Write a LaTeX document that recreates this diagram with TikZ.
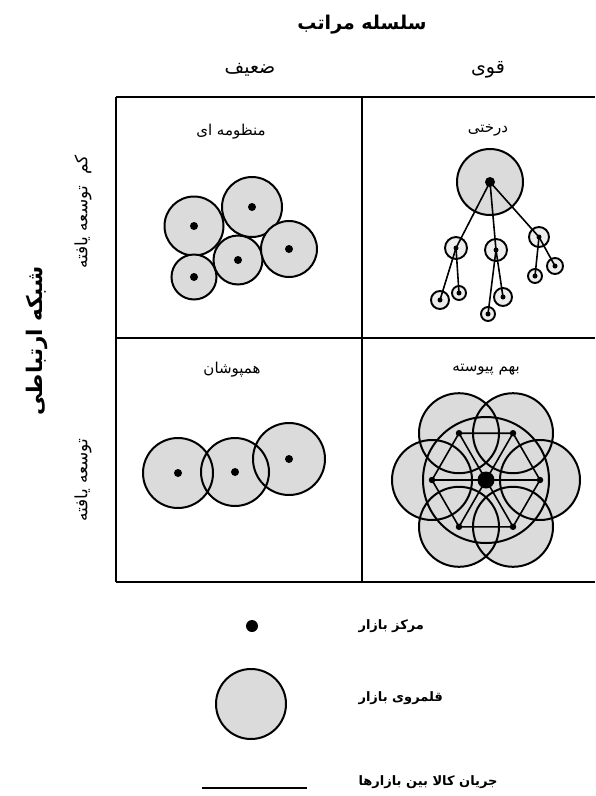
\documentclass[tikz,border=0pt]{standalone}
\usepackage{fontspec}
\newfontfamily\persianfont[Script=Arabic]{DejaVu Sans}
\TeXXeTstate=1
\tikzset{
  gridline/.style={line width=2.2pt},
  area/.style={fill=black!14},
  rim/.style={line width=2pt},
  market/.style={circle, draw, line width=2pt, fill=black!14, inner sep=0pt},
  smallmarket/.style={circle, draw, line width=1.9pt, fill=black!7, inner sep=0pt},
  centre/.style={circle, fill=black, inner sep=0pt},
  flow/.style={line width=1.6pt},
  title/.style={font=\persianfont\bfseries\fontsize{19}{22}\selectfont},
  sidetitle/.style={font=\persianfont\bfseries\fontsize{21.5}{25}\selectfont},
  head/.style={font=\persianfont\fontsize{19}{22}\selectfont},
  lbl/.style={font=\persianfont\fontsize{15}{18}\selectfont},
  sidelbl/.style={font=\persianfont\fontsize{17}{20}\selectfont},
  legendtext/.style={font=\persianfont\bfseries\fontsize{13}{16}\selectfont, anchor=west},
}
\begin{document}
\begin{tikzpicture}[x=1pt,y=-1pt]
\useasboundingbox (0,0) rectangle (595,796);
% grid
\coordinate (gtl) at (116,97);
\coordinate (gtr) at (595,97);
\coordinate (gml) at (116,338);
\coordinate (gmr) at (595,338);
\coordinate (gbl) at (116,582);
\coordinate (gbr) at (595,582);
\coordinate (gtm) at (362,97);
\coordinate (gbm) at (362,582);
\draw[gridline] (gtl) -- (gtr);
\draw[gridline] (gml) -- (gmr);
\draw[gridline] (gbl) -- (gbr);
\draw[gridline] (gtl) -- (gbl);
\draw[gridline] (gtm) -- (gbm);

% headings
\node[title] (t) at (362,25) {\beginR سلسله مراتب\endR};
\node[head] (weak) at (250,70) {\beginR ضعیف\endR};
\node[head] (strong) at (488,70) {\beginR قوی\endR};
\node[sidetitle, rotate=90] (net) at (37,341) {\beginR شبکه ارتباطی\endR};
\node[sidelbl, rotate=90] (und) at (83,212) {\beginR کم\hspace{6pt} توسعه یافته\endR};
\node[sidelbl, rotate=90] (dev) at (83,480) {\beginR توسعه یافته\endR};

% quadrant labels
\node[lbl] (q1) at (231,132) {\beginR منظومه ای\endR};
\node[lbl] (q2) at (488,130) {\beginR درختی\endR};
\node[lbl] (q3) at (232,370) {\beginR همپوشان\endR};
\node[lbl] (q4) at (486,370) {\beginR بهم پیوسته\endR};

% top-left: constellation
\node[market, minimum size=59pt] (a1) at (194,226) {};
\node[market, minimum size=60pt] (a2) at (252,207) {};
\node[market, minimum size=45pt] (a3) at (194,277) {};
\node[market, minimum size=49pt] (a4) at (238,260) {};
\node[market, minimum size=56pt] (a5) at (289,249) {};
\foreach \n in {a1,a2,a3,a4,a5} \node[centre, minimum size=8pt] at (\n) {};

% top-right: tree
\node[market, minimum size=66pt] (root) at (490,182) {};
\node[smallmarket, minimum size=22pt] (c1) at (456,248) {};
\node[smallmarket, minimum size=22pt] (c2) at (496,250) {};
\node[smallmarket, minimum size=20pt] (c3) at (539,237) {};
\node[smallmarket, minimum size=18pt] (g11) at (440,300) {};
\node[smallmarket, minimum size=14pt] (g12) at (459,293) {};
\node[smallmarket, minimum size=14pt] (g21) at (488,314) {};
\node[smallmarket, minimum size=18pt] (g22) at (503,297) {};
\node[smallmarket, minimum size=14pt] (g31) at (535,276) {};
\node[smallmarket, minimum size=16pt] (g32) at (555,266) {};
\foreach \a/\b in {root/c1,root/c2,root/c3,c1/g11,c1/g12,c2/g21,c2/g22,c3/g31,c3/g32}
  \draw[flow] (\a.center) -- (\b.center);
\node[centre, minimum size=10pt] at (root) {};
\foreach \n in {c1,c2,c3,g11,g12,g21,g22,g31,g32} \node[centre, minimum size=5pt] at (\n) {};

% bottom-left: overlapping
\coordinate (b1) at (178,473);
\coordinate (b2) at (235,472);
\coordinate (b3) at (289,459);
\fill[area] (b1) circle[radius=35pt] (b2) circle[radius=34pt] (b3) circle[radius=36pt];
\draw[rim] (b1) circle[radius=35pt] (b2) circle[radius=34pt] (b3) circle[radius=36pt];
\foreach \n in {b1,b2,b3} \node[centre, minimum size=8pt] at (\n) {};

% bottom-right: integrated
\coordinate (hc) at (486,480);
\coordinate (v1) at (540,480);
\coordinate (v2) at (513,433.2);
\coordinate (v3) at (459,433.2);
\coordinate (v4) at (432,480);
\coordinate (v5) at (459,526.8);
\coordinate (v6) at (513,526.8);
\fill[area] (hc) circle[radius=63pt];
\foreach \v in {v1,v2,v3,v4,v5,v6} \fill[area] (\v) circle[radius=40pt];
\draw[rim] (hc) circle[radius=63pt];
\foreach \v in {v1,v2,v3,v4,v5,v6} \draw[rim] (\v) circle[radius=40pt];
\draw[flow] (v1) -- (v2) -- (v3) -- (v4) -- (v5) -- (v6) -- cycle;
\foreach \v in {v2,v3,v5,v6} \draw[flow] (hc) -- (\v);
\draw[line width=2.6pt] (v4) -- (v1);
\node[centre, minimum size=17pt] at (hc) {};
\foreach \v in {v1,v2,v3,v4,v5,v6} \node[centre, minimum size=6.5pt] at (\v) {};

% legend
\node[centre, minimum size=12pt] (ldot) at (252,626) {};
\node[legendtext] (l1) at (355,626) {\beginR مرکز بازار\endR};
\node[market, minimum size=70pt] (lcirc) at (251,704) {};
\node[legendtext] (l2) at (355,698) {\beginR قلمروی بازار\endR};
\coordinate (ls) at (202,788);
\coordinate (le) at (307,788);
\draw[line width=2.4pt] (ls) -- (le);
\node[legendtext] (l3) at (355,782) {\beginR جریان کالا بین بازارها\endR};
\end{tikzpicture}
\end{document}
